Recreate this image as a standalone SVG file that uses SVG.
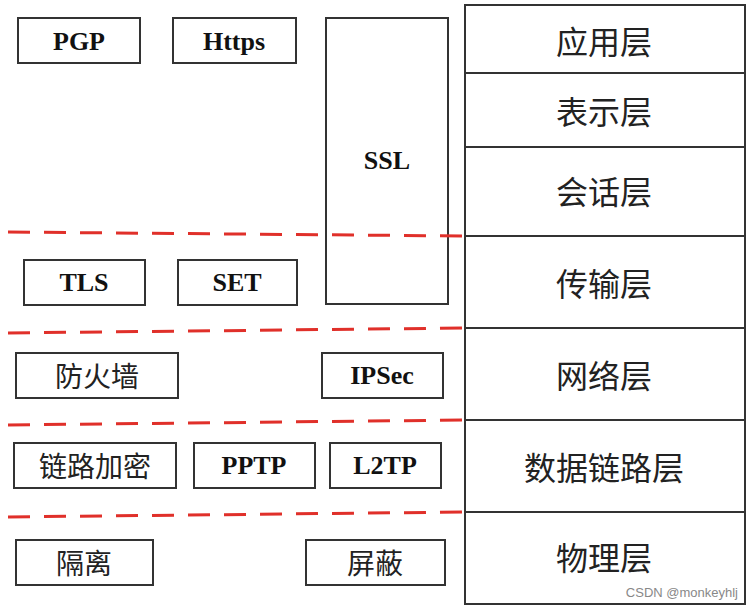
<svg xmlns="http://www.w3.org/2000/svg" width="748" height="611" viewBox="0 0 748 611">
<style>
.b{fill:#fff;stroke:#333;stroke-width:2}
.t{font-family:"Liberation Serif","Noto Sans CJK SC",serif;font-weight:bold;font-size:26px;fill:#111;text-anchor:middle;dominant-baseline:central}
.c{font-family:"Noto Sans CJK SC",sans-serif;font-size:28px;fill:#222;text-anchor:middle;dominant-baseline:central}
.cl{font-family:"Noto Sans CJK SC",sans-serif;font-size:32px;fill:#222;text-anchor:middle;dominant-baseline:central}
.d{stroke:#e0302a;stroke-width:3;stroke-dasharray:22,14;fill:none}
</style>
<rect width="748" height="611" fill="#fff"/>
<g id="layers">
<rect class="b" x="465" y="5" width="280" height="599"/>
<line class="b" x1="465" y1="73" x2="745" y2="73"/>
<line class="b" x1="465" y1="147" x2="745" y2="147"/>
<line class="b" x1="465" y1="236" x2="745" y2="236"/>
<line class="b" x1="465" y1="328" x2="745" y2="328"/>
<line class="b" x1="465" y1="420" x2="745" y2="420"/>
<line class="b" x1="465" y1="512" x2="745" y2="512"/>
<text class="cl" x="604" y="40">应用层</text>
<text class="cl" x="604" y="110">表示层</text>
<text class="cl" x="604" y="190">会话层</text>
<text class="cl" x="604" y="282">传输层</text>
<text class="cl" x="604" y="374">网络层</text>
<text class="cl" x="604" y="466">数据链路层</text>
<text class="cl" x="604" y="556">物理层</text>
</g>
<g id="pgp"><rect class="b" x="18" y="18" width="122" height="45"/><text class="t" x="79" y="41">PGP</text></g>
<g id="https"><rect class="b" x="173" y="18" width="123" height="45"/><text class="t" x="234" y="41">Https</text></g>
<g id="ssl"><rect class="b" x="326" y="18" width="122" height="286"/><text class="t" x="387" y="160">SSL</text></g>
<g id="tls"><rect class="b" x="24" y="260" width="121" height="45"/><text class="t" x="84" y="282">TLS</text></g>
<g id="set"><rect class="b" x="178" y="260" width="119" height="45"/><text class="t" x="237" y="282">SET</text></g>
<g id="fw"><rect class="b" x="16" y="353" width="162" height="45"/><text class="c" x="97" y="375">防火墙</text></g>
<g id="ipsec"><rect class="b" x="322" y="353" width="121" height="45"/><text class="t" x="382" y="375">IPSec</text></g>
<g id="lje"><rect class="b" x="14" y="443" width="162" height="45"/><text class="c" x="95" y="465">链路加密</text></g>
<g id="pptp"><rect class="b" x="194" y="443" width="121" height="45"/><text class="t" x="254" y="465">PPTP</text></g>
<g id="l2tp"><rect class="b" x="330" y="443" width="111" height="45"/><text class="t" x="385" y="465">L2TP</text></g>
<g id="gl"><rect class="b" x="16" y="540" width="137" height="45"/><text class="c" x="84" y="562">隔离</text></g>
<g id="pb"><rect class="b" x="306" y="540" width="139" height="45"/><text class="c" x="375" y="562">屏蔽</text></g>
<g id="connectors">
<line class="d" x1="8" y1="232" x2="465" y2="236"/>
<line class="d" x1="8" y1="333" x2="465" y2="328"/>
<line class="d" x1="8" y1="425" x2="465" y2="420"/>
<line class="d" x1="8" y1="517" x2="465" y2="512"/>
</g>
<text x="738" y="597" font-family="Liberation Sans,sans-serif" font-size="13" fill="#888" text-anchor="end">CSDN @monkeyhlj</text>
</svg>
